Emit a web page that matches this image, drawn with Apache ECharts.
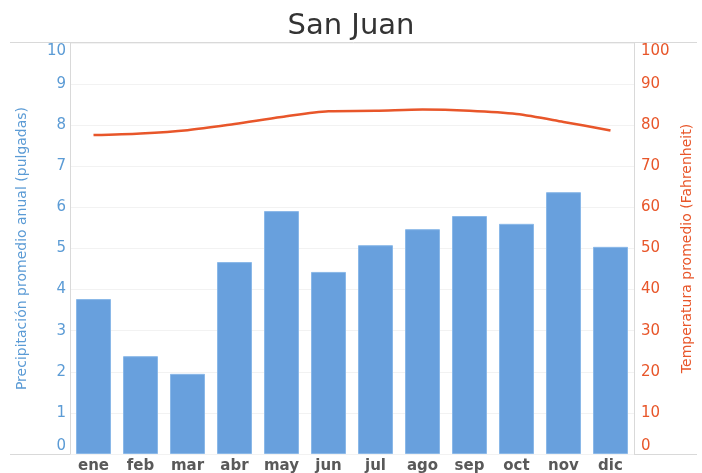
<!DOCTYPE html>
<html>
<head>
<meta charset="utf-8">
<script src="https://cdn.jsdelivr.net/npm/echarts@6/dist/echarts.min.js"></script>
<style>
  html, body { margin: 0; padding: 0; background: #fff; }
  #chart { width: 702px; height: 473px; }
</style>
</head>
<body>
<div id="chart"></div>
<script>
// 月份
const months = ['ene', 'feb', 'mar', 'abr', 'may', 'jun', 'jul', 'ago', 'sep', 'oct', 'nov', 'dic']
// 降水 (pulgadas)
const rain = [3.77, 2.38, 1.95, 4.67, 5.91, 4.43, 5.08, 5.47, 5.79, 5.6, 6.37, 5.04]
// 温度 (Fahrenheit)
const temp = [77.6, 78.0, 78.8, 80.3, 82.0, 83.4, 83.5, 83.8, 83.5, 82.7, 80.8, 78.7]

const blue = '#5b9bd5'
const orange = '#e8562a'
const font = 'DejaVu Sans'

// 两端的刻度标签往里挪一点
function edgeLabel (max) {
  return function (v) {
    if (v === 0) return '{lo|' + v + '}'
    if (v === max) return '{hi|' + v + '}'
    return v
  }
}
function edgeRich (color) {
  return {
    lo: { color: color, fontSize: 15, fontFamily: font, padding: [0, 0, 16, 0] },
    hi: { color: color, fontSize: 15, fontFamily: font, padding: [16, 0, 0, 0] }
  }
}

const chart = echarts.init(document.getElementById('chart'))
const option = {
  animation: false,
  textStyle: { fontFamily: font },
  title: {
    text: 'San Juan',
    left: 'center',
    top: 7,
    textStyle: { color: '#333', fontSize: 29, fontWeight: 'normal', fontFamily: font }
  },
  grid: { left: 70, right: 68, top: 43, bottom: 19, outerBoundsMode: 'none', containLabel: false },
  graphic: [
    { type: 'line', shape: { x1: 10, y1: 42.5, x2: 697, y2: 42.5 }, style: { stroke: '#d9d9d9', lineWidth: 1 } },
    { type: 'line', shape: { x1: 10, y1: 454.5, x2: 697, y2: 454.5 }, style: { stroke: '#d9d9d9', lineWidth: 1 } }
  ],
  xAxis: {
    type: 'category',
    data: months,
    axisLine: { show: false },
    axisTick: { show: false },
    axisLabel: { color: '#595959', fontSize: 15, fontWeight: 'bold', fontFamily: font, margin: 5 }
  },
  yAxis: [
    {
      type: 'value',
      min: 0,
      max: 10,
      interval: 1,
      name: 'Precipitación promedio anual (pulgadas)',
      nameLocation: 'middle',
      nameGap: 41,
      nameTextStyle: { color: blue, fontSize: 14, fontFamily: font },
      axisLine: { show: true, lineStyle: { color: '#d9d9d9' } },
      axisTick: { show: false },
      axisLabel: { color: blue, fontSize: 15, fontFamily: font, margin: 4, formatter: edgeLabel(10), rich: edgeRich(blue) },
      splitLine: { lineStyle: { color: '#f2f2f2' } }
    },
    {
      type: 'value',
      min: 0,
      max: 100,
      interval: 10,
      name: 'Temperatura promedio (Fahrenheit)',
      nameLocation: 'middle',
      nameGap: 37,
      nameTextStyle: { color: orange, fontSize: 14, fontFamily: font },
      axisLine: { show: true, lineStyle: { color: '#d9d9d9' } },
      axisTick: { show: false },
      axisLabel: { color: orange, fontSize: 15, fontFamily: font, margin: 7, formatter: edgeLabel(100), rich: edgeRich(orange) },
      splitLine: { show: false }
    }
  ],
  series: [
    {
      type: 'bar',
      data: rain,
      barWidth: 35,
      itemStyle: { color: '#68a0dd', borderColor: '#8ab8e8', borderWidth: 1 }
    },
    {
      type: 'line',
      yAxisIndex: 1,
      data: temp,
      smooth: 0.3,
      showSymbol: false,
      lineStyle: { color: orange, width: 2.5 }
    }
  ]
}
chart.setOption(option)
</script>
</body>
</html>
